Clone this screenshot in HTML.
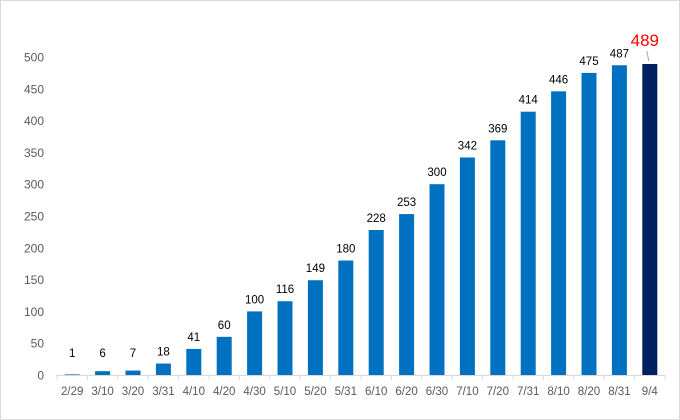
<!DOCTYPE html>
<html><head><meta charset="utf-8"><style>
body{margin:0;background:#fff;}
svg{display:block;font-family:"Liberation Sans",sans-serif;}
</style></head><body>
<svg id="chart" width="680" height="420" viewBox="0 0 680 420">
<rect x="0.5" y="0.5" width="679" height="419" fill="#fff" stroke="#d9d9d9"/>
<g id="grid"></g><g id="bars"></g><g id="labels"></g>
</svg>
<script>
const categories=["2/29","3/10","3/20","3/31","4/10","4/20","4/30","5/10","5/20","5/31","6/10","6/20","6/30","7/10","7/20","7/31","8/10","8/20","8/31","9/4"];
const values=[1,6,7,18,41,60,100,116,149,180,228,253,300,342,369,414,446,475,487,489];
const yTicks=[0,50,100,150,200,250,300,350,400,450,500];
const NS="http://www.w3.org/2000/svg";
const svg=document.getElementById('chart');
const x0=57,x1=665,y0=375,yTop=57,yMax=500;
const band=(x1-x0)/categories.length;
const yS=v=>y0-(v/yMax)*(y0-yTop);
const xC=i=>x0+band*(i+0.5);
function mk(tag,attrs,parent){const e=document.createElementNS(NS,tag);for(const k in attrs)e.setAttribute(k,attrs[k]);parent.appendChild(e);return e;}
const g=document.getElementById('grid'),b=document.getElementById('bars'),l=document.getElementById('labels');
yTicks.forEach(t=>{
  const tx=mk('text',{x:44,y:yS(t)+4.5,'text-anchor':'end','font-size':12,fill:'#595959'},g);
  tx.textContent=t;
  
  
});
const ax=mk('line',{x1:x0,x2:x1,y1:y0+0.5,y2:y0+0.5,stroke:'#d9d9d9'},g);


for(let i=0;i<=categories.length;i++){
  const tk=mk('line',{x1:x0+band*i,x2:x0+band*i,y1:y0,y2:y0+5,stroke:'#d9d9d9'},g);
  
  
}
categories.forEach((c,i)=>{
  const last=i===categories.length-1;
  const bw=15;
  const r=mk('rect',{x:xC(i)-bw/2,y:yS(values[i]),width:bw,height:y0-yS(values[i]),fill:last?'#002060':'#0070c0'},b);
  
  
  const ct=mk('text',{x:xC(i),y:y0+20,'text-anchor':'middle','font-size':11.5,fill:'#595959'},l);
  ct.textContent=c;
  
  
  if(last){
    const ln=mk('line',{x1:xC(i)-3,y1:yS(values[i])-13,x2:xC(i)-1,y2:yS(values[i])-3,stroke:'#a6a6a6'},l);
    
    
    const vt=mk('text',{x:xC(i)-5,y:yS(values[i])-18,'text-anchor':'middle','font-size':17,fill:'#ff0000'},l);
    vt.textContent=values[i];
    
    
  }else{
    const vt=mk('text',{x:xC(i),y:Math.min(yS(values[i]),y0-10)-8,'text-anchor':'middle','font-size':11.5,fill:'#000'},l);
    vt.textContent=values[i];
    
    
  }
});
</script>
</body></html>
